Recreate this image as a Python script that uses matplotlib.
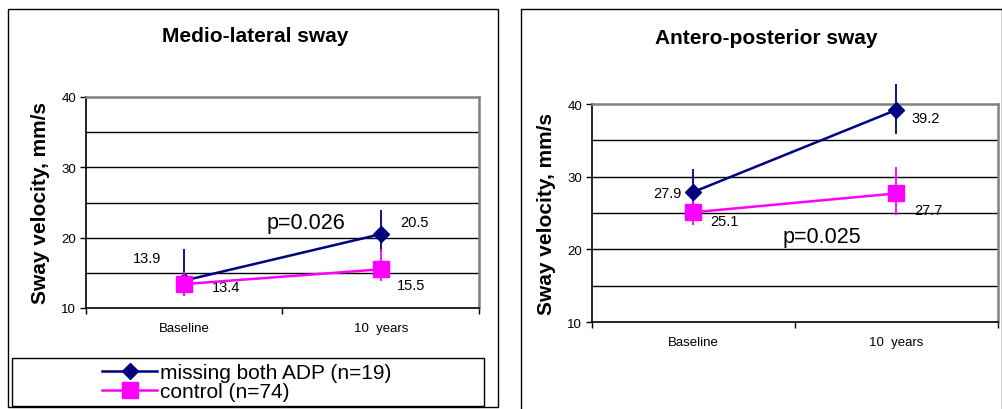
import matplotlib
matplotlib.use("Agg")
from matplotlib import pyplot as plt
from matplotlib.patches import Rectangle
from matplotlib.lines import Line2D

plt.rcParams['font.family'] = ['Liberation Sans', 'DejaVu Sans']

categories = ['Baseline', '10  years']
series_names = ['missing both ADP (n=19)', 'control (n=74)']
colors = ['#000080', '#ff00ff']
markers = ['D', 's']

# medio-lateral sway
ml_adp = [13.9, 20.5]
ml_ctrl = [13.4, 15.5]
ml_adp_err = [[2.0, 2.5], [4.5, 3.4]]
ml_ctrl_err = [[1.7, 1.6], [1.7, 2.9]]

# antero-posterior sway
ap_adp = [27.9, 39.2]
ap_ctrl = [25.1, 27.7]
ap_adp_err = [[2.0, 3.3], [3.1, 3.5]]
ap_ctrl_err = [[1.8, 3.0], [1.5, 3.6]]

p_values = ['p=0.026', 'p=0.025']

W, H = 1003, 410
fig = plt.figure(figsize=(W / 100, H / 100), dpi=100)


def px(x0, y0, w, h):
    return [x0 / W, 1 - (y0 + h) / H, w / W, h / H]


def draw_panel(ax, title, adp, ctrl, adp_err, ctrl_err, offsets, ptext, ppos, tpad):
    x = [0, 1]
    ax.set_xlim(-0.5, 1.5)
    ax.set_ylim(10, 40)
    for y in [15, 20, 25, 30, 35]:
        ax.axhline(y, color='black', lw=1, zorder=1)
    ax.errorbar(x, adp, yerr=adp_err, color=colors[0], marker=markers[0], ms=8,
                lw=1.8, elinewidth=1.3, capsize=0, zorder=3, clip_on=False)
    ax.errorbar(x, ctrl, yerr=ctrl_err, color=colors[1], marker=markers[1], ms=11,
                lw=1.8, elinewidth=1.3, capsize=0, zorder=4, clip_on=False)
    vals = [adp[0], ctrl[0], adp[1], ctrl[1]]
    xs = [0, 0, 1, 1]
    for xv, v, off in zip(xs, vals, offsets):
        ax.annotate(f'{v:.1f}', (xv, v), xytext=off, textcoords='offset points',
                    ha='center', va='center', fontsize=10.5, zorder=0)
    ax.text(ppos[0], ppos[1], ptext, ha='center', va='center', fontsize=15.5, zorder=5)

    ax.set_yticks([10, 20, 30, 40])
    ax.tick_params(axis='y', direction='out', length=4, width=1, labelsize=9.5, pad=3)
    ax.set_xticks([0, 1])
    ax.set_xticklabels(categories)
    ax.set_xticks([-0.5, 0.5, 1.5], minor=True)
    ax.tick_params(axis='x', which='major', length=0, labelsize=9.5, pad=10)
    ax.tick_params(axis='x', which='minor', direction='out', length=4, width=1)
    for s in ['top', 'right']:
        ax.spines[s].set_color('#808080')
        ax.spines[s].set_linewidth(1.8)
    for s in ['left', 'bottom']:
        ax.spines[s].set_color('black')
        ax.spines[s].set_linewidth(1.2)
    ax.set_ylabel('Sway velocity, mm/s', fontsize=15, fontweight='bold', labelpad=8)
    ax.set_title(title, fontsize=15, fontweight='bold', pad=tpad, x=0.43)


ax1 = fig.add_axes(px(86, 98, 393, 211))
draw_panel(ax1, 'Medio-lateral sway', ml_adp, ml_ctrl, ml_adp_err, ml_ctrl_err,
           [(-27, 16), (30, -2), (24, 9), (22, -11)], p_values[0], (0.62, 22.2), 40)

ax2 = fig.add_axes(px(592, 105, 406, 218))
draw_panel(ax2, 'Antero-posterior sway', ap_adp, ap_ctrl, ap_adp_err, ap_ctrl_err,
           [(-19, -1), (22, -6), (21, -6), (23, -12)], p_values[1], (0.633, 21.7), 44)

# chart frames
fig.patches.append(Rectangle((8 / W, 2 / H), 490 / W, 398 / H, transform=fig.transFigure,
                             fill=False, edgecolor='black', lw=1))
fig.add_artist(Line2D([521 / W, 521 / W, 1002 / W, 1002 / W], [0, 1 - 10 / H, 1 - 10 / H, 0],
                      transform=fig.transFigure, color='black', lw=1))

# legend box
fig.patches.append(Rectangle((12 / W, 3 / H), 472 / W, 48 / H, transform=fig.transFigure,
                             fill=False, edgecolor='black', lw=1))
handles = [Line2D([], [], color=c, marker=m, ms=ms, lw=1.8)
           for c, m, ms in zip(colors, markers, [8, 11])]
fig.legend(handles, series_names, loc='center left', bbox_to_anchor=(92 / W, 27 / H),
           frameon=False, fontsize=15, handlelength=2.6, handletextpad=0.15,
           labelspacing=0.0, borderpad=0)

fig.savefig('out.png', dpi=100)
